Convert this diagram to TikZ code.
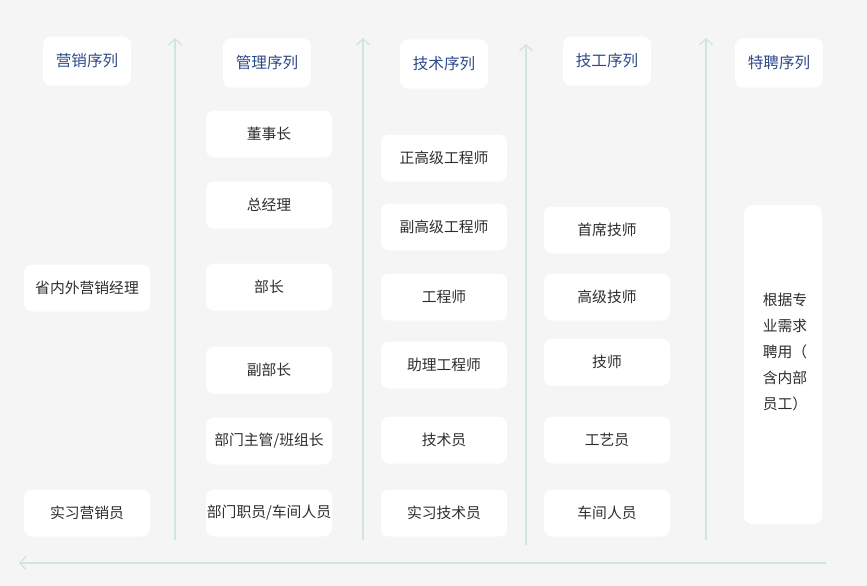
\documentclass[tikz,border=0pt]{standalone}
\usepackage{fontspec}
\usepackage{tikz}
\usetikzlibrary{positioning, arrows.meta}
\newfontfamily\cjk{Noto Sans CJK SC}
\definecolor{bggray}{RGB}{245,245,245}
\definecolor{axisgreen}{RGB}{208,229,223}
\definecolor{headblue}{RGB}{46,74,140}
\definecolor{textgray}{RGB}{45,45,45}

\begin{document}
\begin{tikzpicture}[x=1pt, y=-1pt,
	lvl/.style={fill=white, rounded corners=8pt, minimum width=126pt, minimum height=47pt, inner sep=0pt, font=\cjk\fontsize{14.8}{16}\selectfont, text=textgray},
	head/.style={fill=white, rounded corners=8pt, minimum width=88pt, minimum height=49pt, inner sep=0pt, font=\cjk\fontsize{15.6}{18}\selectfont, text=headblue},
	axis/.style={draw=axisgreen, line width=1.6pt, -{Straight Barb[length=6pt, width=13pt, line width=1.3pt]}}]
		
		% Background
		\fill[bggray] (0,0) rectangle (867,586);
		
		% Headers
		\node[head] (hsale) at (87,61) {营销序列};
		\node[head] (hman) at (267,63) {管理序列};
		\node[head] (htec) at (444,64) {技术序列};
		\node[head] (hwork) at (607,61) {技工序列};
		\node[head] (hspec) at (779,63) {特聘序列};
		
		% Sales
		\node[lvl] (s1) at (87,288) {省内外营销经理};
		\node[lvl] (s2) at (87,513) {实习营销员};
		
		% Management
		\foreach \name/\y/\txt in {m1/134/董事长, m2/205/总经理, m3/287/部长, m4/370/副部长, m5/441/{部门主管/班组长}, m6/513/{部门职员/车间人员}}
		\node[lvl] (\name) at (269,\y) {\txt};
		
		% Technical
		\foreach \name/\y/\txt in {t1/158/正高级工程师, t2/227/副高级工程师, t3/297/工程师, t4/365/助理工程师, t5/440/技术员, t6/513/实习技术员}
		\node[lvl] (\name) at (444,\y) {\txt};
		
		% Workers
		\foreach \name/\y/\txt in {w1/230/首席技师, w2/297/高级技师, w3/362/技师, w4/440/工艺员, w5/513/车间人员}
		\node[lvl] (\name) at (607,\y) {\txt};
		
		% Special hire
		\node[lvl, minimum width=78pt, minimum height=319pt] (sp) at (783,364.5) {};
		\node[font=\cjk\fontsize{14.8}{26}\selectfont, text=textgray, align=left, inner sep=0pt] (sptxt) at (785,352) {根据专\\业需求\\聘用（\\含内部\\员工）};
		
		% Axes
		\foreach \x/\ya/\yb in {175/540/38, 363/540/38, 526/545/44, 706/540/38} {
			\coordinate (a\x) at (\x,\ya);
			\coordinate (b\x) at (\x,\yb);
			\draw[axis] (a\x) -- (b\x);
		}
		\coordinate (hr) at (826,563);
		\coordinate (hl) at (19,563);
		\draw[axis] (hr) -- (hl);
		
	\end{tikzpicture}
\end{document}
